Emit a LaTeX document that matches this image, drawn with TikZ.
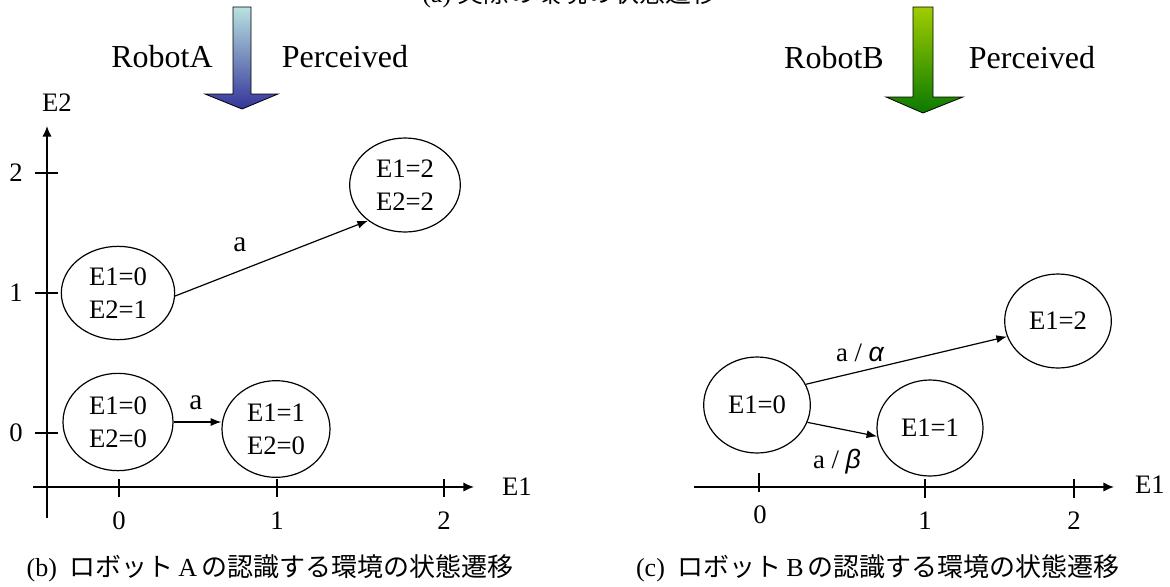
\documentclass[tikz,border=0pt]{standalone}
\usepackage{fontspec}
\setmainfont{Liberation Serif}
\newfontfamily\jp{Noto Sans CJK JP}
\newfontfamily\arial{Liberation Sans}
\usetikzlibrary{shapes.geometric,arrows.meta}
\definecolor{aTop}{HTML}{B8E2E0}
\definecolor{aBot}{HTML}{34349A}
\definecolor{bTop}{HTML}{A0CC00}
\definecolor{bBot}{HTML}{0A7A00}
\tikzset{
  statenode/.style={ellipse,draw,line width=0.9pt,inner sep=0pt,align=center,
    font=\fontsize{20}{25}\selectfont},
  conn/.style={line width=0.9pt,-{Latex[length=8pt,width=6pt]}},
  axisline/.style={line width=1.1pt,-{Latex[length=8pt,width=7pt]}},
  tickmark/.style={line width=1pt},
  numlbl/.style={font=\fontsize{20}{22}\selectfont},
  biglbl/.style={font=\fontsize{24}{28}\selectfont},
  edgelbl/.style={font=\fontsize{20}{22}\selectfont},
  captext/.style={font=\fontsize{19.5}{23}\selectfont},
  blockarrow/.style={draw=black,line width=0.6pt},
}
\newcommand{\grk}[1]{{\arial\itshape #1}}
\begin{document}
\begin{tikzpicture}[x=0.75pt,y=-0.75pt]
\useasboundingbox (0,0) rectangle (1170,586);
% top caption (cut off, as in the reference)
\node[captext,anchor=base] (capa) at (570,2.5) {(a)\ \jp 実際の環境の状態遷移};
% block arrows
\shade[blockarrow,top color=aTop,bottom color=aBot]
  (233,7) -- (251,7) -- (251,94) -- (278,94) -- (242,109) -- (205,94) -- (233,94) -- cycle;
\node[biglbl] (robA) at (162,57) {RobotA};
\node[biglbl] (perA) at (345,57) {Perceived};
\shade[blockarrow,top color=bTop,bottom color=bBot]
  (913,7) -- (933,7) -- (933,97) -- (963,97) -- (923,113) -- (886,97) -- (913,97) -- cycle;
\node[biglbl] (robB) at (834,58) {RobotB};
\node[biglbl] (perB) at (1032,58) {Perceived};

% ---- left panel axes
\coordinate (ya0) at (47,518);
\coordinate (ya1) at (47,126);
\coordinate (xa0) at (33,487);
\coordinate (xa1) at (474,487);
\draw[axisline] (ya0) -- (ya1);
\draw[axisline] (xa0) -- (xa1);
\foreach \y/\t in {173/2,293/1,433/0} {
  \draw[tickmark] (35,\y) -- (58,\y);
  \node[numlbl] (ly\t) at (16,\y) {\t};
}
\foreach \x/\t in {119/0,277/1,444/2} {
  \draw[tickmark] (\x,479) -- (\x,497);
  \node[numlbl] (lx\t) at (\x,521) {\t};
}
\node[numlbl] (e2) at (57,103) {E2};
\node[numlbl] (e1a) at (517,487) {E1};

% ---- left states
\node[statenode,minimum width=85pt,minimum height=70pt] (A01) at (118,293) {E1=0\\E2=1};
\node[statenode,minimum width=83pt,minimum height=70.5pt] (A22) at (405,185) {E1=2\\E2=2};
\node[statenode,minimum width=82.5pt,minimum height=73pt] (A00) at (118,422) {E1=0\\E2=0};
\node[statenode,minimum width=81pt,minimum height=72.5pt] (A10) at (276,429) {E1=1\\E2=0};
\draw[conn] (A01.-3) -- (A22.224);
\draw[conn] (A00.east) -- (A00.east -| A10.west);
\node[edgelbl,font=\fontsize{22}{24}\selectfont] (la1) at (240,245) {a};
\node[edgelbl,font=\fontsize{22}{24}\selectfont] (la2) at (196,403) {a};

% ---- right panel
\coordinate (xb0) at (694,487);
\coordinate (xb1) at (1114,487);
\draw[axisline] (xb0) -- (xb1);
\draw[tickmark] (759,473) -- (759,492);
\draw[tickmark] (925,479) -- (925,498);
\draw[tickmark] (1074,479) -- (1074,498);
\node[numlbl] (lb0) at (760,515) {0};
\node[numlbl] (lb1) at (925,521) {1};
\node[numlbl] (lb2) at (1074,521) {2};
\node[numlbl] (e1b) at (1150,485) {E1};

\node[statenode,minimum width=80pt,minimum height=72pt] (B0) at (757,405) {E1=0};
\node[statenode,minimum width=79.5pt,minimum height=72pt] (B1) at (930,428) {E1=1};
\node[statenode,minimum width=80pt,minimum height=70.5pt] (B2) at (1058,321) {E1=2};
\draw[conn] (B0.23) -- (B2.197);
\draw[conn] (B0.-19) -- (B1.189);
\node[edgelbl] (lal) at (860,353) {a /\ \grk{α}};
\node[edgelbl] (lbe) at (837,462) {a /\ \grk{β}};

% captions
\node[captext] (capb) at (270,568) {(b)\ \ {\jp ロボット}\,A\,{\jp の認識する環境の状態遷移}};
\node[captext] (capc) at (878,568) {(c)\ \ {\jp ロボット}\,B\,{\jp の認識する環境の状態遷移}};
\end{tikzpicture}
\end{document}
